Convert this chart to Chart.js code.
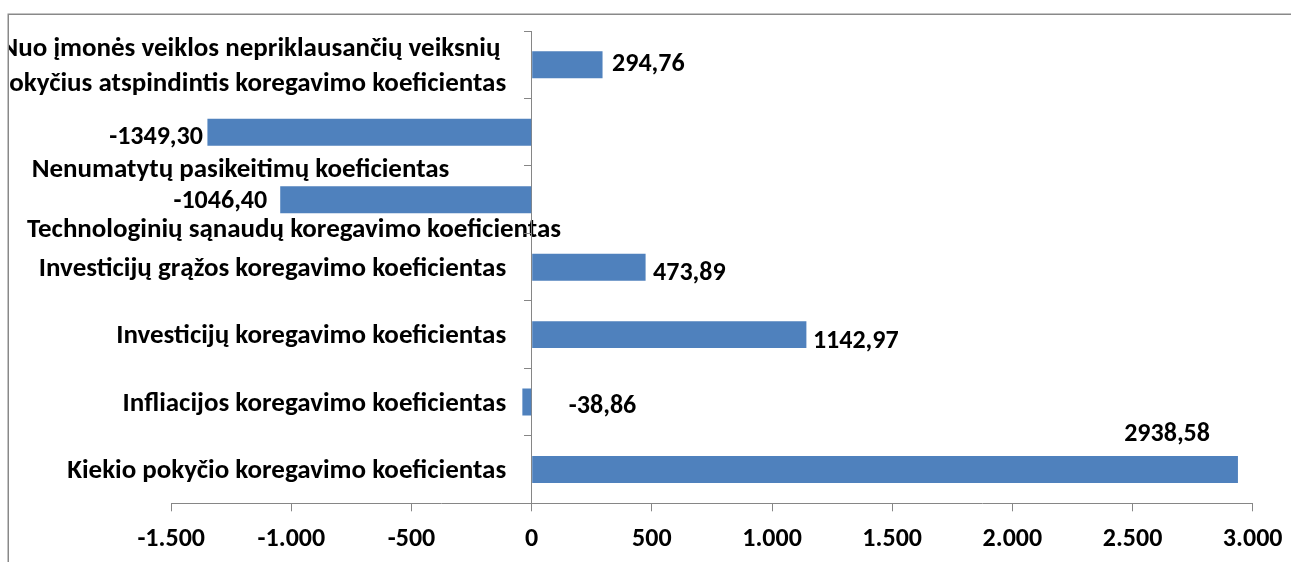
<!DOCTYPE html>
<html><head><meta charset="utf-8">
<script src="https://cdn.jsdelivr.net/npm/chart.js@4.4.1/dist/chart.umd.min.js"></script>
<style>html,body{margin:0;padding:0;background:#fff}</style>
</head><body>
<canvas id="c" width="1291" height="562" style="width:1291px;height:562px;display:block"></canvas>
<script>
// ---- data ----
const categories = [
  ["Nuo įmonės veiklos nepriklausančių veiksnių", "pokyčius atspindintis koregavimo koeficientas"],
  "Nenumatytų pasikeitimų koeficientas",
  "Technologinių sąnaudų koregavimo koeficientas",
  "Investicijų grąžos koregavimo koeficientas",
  "Investicijų koregavimo koeficientas",
  "Infliacijos koregavimo koeficientas",
  "Kiekio pokyčio koregavimo koeficientas"
];
const values = [294.76, -1349.30, -1046.40, 473.89, 1142.97, -38.86, 2938.58];
const xMin = -1500;
const xMax = 3000;
const xStep = 500;

// ---- style / placement (not data) ----
const FONT = 'Carlito, Calibri, Lato, sans-serif';
const CAT_SIZE = 27, VAL_SIZE = 26;
const catPlacement = [
  {align: 'right', dx: -25.5, dy: 0},
  {align: 'center', dx: -291.2, dy: 36},
  {align: 'center', dx: -237.7, dy: 28.5},
  {align: 'right', dx: -25.5, dy: 0},
  {align: 'right', dx: -25.5, dy: 0},
  {align: 'right', dx: -25.5, dy: 0},
  {align: 'right', dx: -25.5, dy: 0}
];
const valPlacement = [
  {align: 'left', dx: 9.5, dy: -2},
  {align: 'right', dx: -4.5, dy: 4},
  {align: 'right', dx: -13, dy: 0.5},
  {align: 'left', dx: 7.5, dy: 4.7},
  {align: 'left', dx: 6.5, dy: 4.8},
  {align: 'left', dx: 46.5, dy: 3},
  {align: 'right', dx: -28, dy: -36.7}
];

function fmtTick(v) {
  const s = Math.abs(v).toString().replace(/\B(?=(\d{3})+(?!\d))/g, '.');
  return (v < 0 ? '-' : '') + s;
}
function fmtVal(v) {
  return v.toFixed(2).replace('.', ',');
}

const labelsPlugin = {
  id: 'labelsPlugin',
  beforeDraw(chart) {
    const ctx = chart.ctx, xs = chart.scales.x, ys = chart.scales.y;
    const zero = xs.getPixelForValue(0);
    ctx.save();
    // outer chart frame (partly outside the picture)
    ctx.strokeStyle = '#898989';
    ctx.lineWidth = 1.5;
    ctx.beginPath();
    ctx.moveTo(8.25, chart.height);
    ctx.lineTo(8.25, 14.25);
    ctx.lineTo(chart.width, 14.25);
    ctx.stroke();
    // category labels, clipped by the frame
    ctx.beginPath();
    ctx.rect(9, 15, chart.width - 9, chart.height - 15);
    ctx.clip();
    ctx.font = 'bold ' + CAT_SIZE + 'px ' + FONT;
    ctx.fillStyle = '#000';
    ctx.textAlign = 'center';
    ctx.textBaseline = 'alphabetic';
    const lh = 34.5;
    categories.forEach((lab, i) => {
      const lines = Array.isArray(lab) ? lab : [lab];
      const p = catPlacement[i];
      const cy = ys.getPixelForValue(i) + p.dy;
      const maxW = Math.max(...lines.map(l => ctx.measureText(l).width));
      const cx = p.align === 'center' ? zero + p.dx : zero + p.dx - maxW / 2;
      lines.forEach((l, j) => {
        const ly = cy + (j - (lines.length - 1) / 2) * lh;
        ctx.fillText(l, cx, ly + 0.32 * CAT_SIZE);
      });
    });
    ctx.restore();
  },
  afterDatasetsDraw(chart) {
    const ctx = chart.ctx, xs = chart.scales.x, ys = chart.scales.y;
    ctx.save();
    ctx.font = 'bold ' + VAL_SIZE + 'px ' + FONT;
    ctx.fillStyle = '#000';
    ctx.textBaseline = 'alphabetic';
    values.forEach((v, i) => {
      const p = valPlacement[i];
      const x = xs.getPixelForValue(v) + p.dx;
      const y = ys.getPixelForValue(i) + p.dy;
      ctx.textAlign = p.align;
      ctx.fillText(fmtVal(v), x, y + 0.316 * VAL_SIZE);
    });
    ctx.restore();
  }
};

Chart.defaults.font.family = FONT;
new Chart(document.getElementById('c'), {
  type: 'bar',
  data: {
    labels: categories,
    datasets: [{
      data: values,
      backgroundColor: '#4F81BD',
      borderWidth: 0,
      categoryPercentage: 1,
      barPercentage: 0.4
    }]
  },
  options: {
    indexAxis: 'y',
    responsive: false,
    animation: false,
    devicePixelRatio: 1,
    layout: {padding: {left: 171.2, right: 38.3, top: 31, bottom: 0}},
    plugins: {legend: {display: false}, tooltip: {enabled: false}},
    scales: {
      x: {
        type: 'linear',
        position: 'bottom',
        min: xMin, max: xMax,
        grid: {drawOnChartArea: false, drawTicks: true, tickLength: 8, color: '#868686', lineWidth: 1},
        border: {display: true, color: '#868686', width: 1},
        ticks: {stepSize: xStep, callback: v => fmtTick(v), color: '#000', padding: 13,
                font: {size: VAL_SIZE, weight: 'bold', family: FONT}, maxRotation: 0, autoSkip: false},
        afterFit: s => { s.height = 58.7; s.paddingLeft = 0; s.paddingRight = 0; }
      },
      y: {
        type: 'category',
        position: {x: 0},
        offset: true,
        grid: {offset: true, drawOnChartArea: false, drawTicks: true, tickLength: 7, color: '#868686', lineWidth: 1},
        border: {display: true, color: '#868686', width: 1},
        ticks: {display: false},
        afterFit: s => { s.width = 0; }
      }
    }
  },
  plugins: [labelsPlugin]
});
</script>
</body></html>
